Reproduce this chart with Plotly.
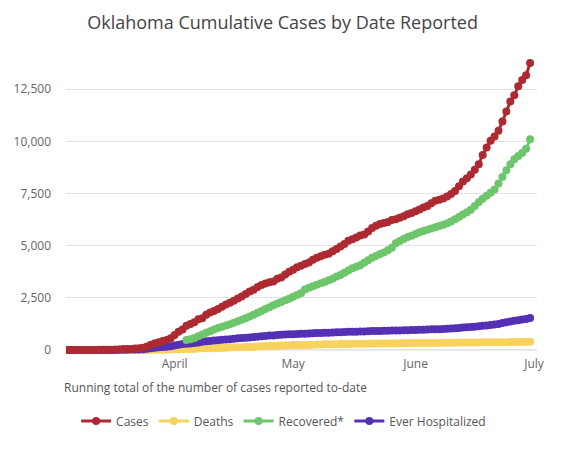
import pandas as pd
import plotly.graph_objects as go

# fechas: 5 de marzo a 30 de junio de 2020
fechas = pd.date_range('2020-03-05', '2020-06-30', freq='D')

cases = [1, 1, 1, 2, 2, 3, 3, 4, 7, 7, 10, 17, 19, 29, 44, 49, 53, 67, 81, 106, 164, 248, 322, 377, 429, 481, 565,
         719, 879, 988, 1159, 1252, 1327, 1472, 1524, 1684, 1794, 1868, 1970, 2069, 2184, 2263, 2357, 2465, 2570,
         2680, 2807, 2894, 3017, 3121, 3193, 3253, 3280, 3410, 3473, 3618, 3748,
         3851, 3972, 4044, 4127, 4201, 4330, 4424, 4490, 4570, 4613, 4732, 4841, 4962, 5086, 5236, 5310, 5398,
         5489, 5532, 5680, 5849, 5960, 6037, 6090, 6137, 6229, 6270, 6340, 6418, 6506, 6573,
         6650, 6742, 6833, 6907, 7040, 7150, 7205, 7260, 7362, 7480, 7626, 7851, 8080, 8231, 8417, 8645, 8904,
         9354, 9706, 10037, 10233, 10515, 10958, 11436, 11917, 12214, 12642, 12943, 13172, 13757]

deaths = [0, 0, 0, 0, 0, 0, 0, 0, 0, 0, 0, 0, 0, 0, 1, 1, 1, 2, 2, 3, 5, 7, 8, 15, 16, 17, 23,
          30, 34, 38, 42, 46, 51, 67, 79, 80, 86, 88, 94, 99, 108, 123, 127, 131, 136, 139, 140, 143, 164, 179,
          188, 195, 197, 207, 214, 222, 230,
          234, 238, 238, 241, 245, 253, 260, 266, 271, 274, 278, 280, 284, 288, 288, 294, 294, 298, 299, 304, 307,
          311, 313, 313, 316, 317, 322, 326, 328, 330, 334,
          334, 336, 339, 340, 341, 341, 342, 343, 346, 348, 353, 356, 357, 359, 359, 360, 363, 366, 367, 369, 369,
          372, 373, 377, 382, 387, 388, 389, 391, 399]

# recuperados empiezan el 5 de abril
recovered = [480, 520, 580, 660, 740, 830, 900, 980, 1050, 1120, 1180, 1240, 1310, 1380, 1450, 1520, 1600, 1690,
             1790, 1870, 1960, 2050, 2150, 2230, 2300, 2380,
             2460, 2550, 2640, 2720, 2900, 2980, 3060, 3130, 3200, 3260, 3340, 3420, 3520, 3600, 3700, 3810, 3920,
             3990, 4060, 4180, 4300, 4420, 4510, 4600, 4680, 4780, 4900, 5120, 5220, 5320, 5420, 5480,
             5560, 5640, 5700, 5760, 5820, 5880, 5940, 6000, 6080, 6160, 6270, 6380, 6500, 6600, 6720, 6900, 7080,
             7250, 7400, 7540, 7700, 7980, 8300, 8620, 8900, 9150, 9300, 9450, 9650, 10100]

hospitalized = [0, 0, 0, 0, 0, 0, 0, 0, 0, 0, 1, 2, 4, 8, 12, 15, 18, 22, 25, 35, 59, 86, 105, 126, 140, 153, 180,
                219, 257, 286, 305, 316, 340, 360, 390, 415, 435, 450, 470, 490, 505, 520, 540, 560, 575, 590,
                605, 620, 640, 660, 675, 690, 700, 715, 725, 740, 750,
                760, 770, 775, 780, 790, 800, 810, 820, 825, 830, 840, 850, 855, 860, 870, 875, 880, 885, 890, 900,
                905, 910, 915, 920, 925, 930, 935, 940, 945, 950, 955,
                960, 965, 975, 980, 990, 995, 1000, 1010, 1020, 1030, 1045, 1060, 1075, 1090, 1105, 1120, 1140,
                1160, 1180, 1200, 1220, 1250, 1290, 1330, 1370, 1400, 1430, 1460, 1490, 1530]

meses = ['2020-04-01', '2020-05-01', '2020-06-01', '2020-07-01']
meses_txt = ['April', 'May', 'June', 'July']

# (nombre, valores, color, orden en la leyenda) -> se dibuja de abajo hacia arriba
series = [
    ('Deaths', deaths, '#f7d25d', 2),
    ('Ever Hospitalized', hospitalized, '#5430b5', 4),
    ('Recovered*', recovered, '#6dc66b', 3),
    ('Cases', cases, '#ad2a33', 1),
]

fig = go.Figure()
for nombre, valores, color, rank in series:
    fig.add_trace(go.Scatter(
        x=fechas[-len(valores):], y=valores, name=nombre, mode='lines+markers',
        line=dict(color=color, width=3), marker=dict(color=color, size=8),
        legendrank=rank, hoverinfo='skip'))

# la pagina corre el grafico ~8px, se compensa en los margenes
fig.update_layout(
    width=565, height=458,
    margin=dict(l=58, r=36, t=50, b=111),
    paper_bgcolor='white', plot_bgcolor='white',
    font=dict(family='Open Sans', color='#666666', size=12),
    title=dict(text='Oklahoma Cumulative Cases by Date Reported', x=0.486, xanchor='center',
               y=0.967, yanchor='middle', font=dict(size=18, color='#444444')),
    showlegend=True,
    legend=dict(orientation='h', x=0.462, xanchor='center', y=-0.222, yanchor='middle',
                font=dict(size=12, color='#555555'), itemwidth=30, traceorder='normal'),
    annotations=[dict(text='Running total of the number of cases reported to-date', xref='paper', yref='paper',
                      x=-0.008, y=-0.11, xanchor='left', yanchor='middle', showarrow=False,
                      font=dict(size=12, color='#555555'))],
)

fig.update_xaxes(range=['2020-03-04 12:00', '2020-07-01 18:00'], tickvals=meses, ticktext=meses_txt,
                 showgrid=False, zeroline=False, showline=False, ticks='', automargin=False,
                 tickfont=dict(size=12, color='#666666'))
fig.update_yaxes(range=[-240, 14000], tickvals=[0, 2500, 5000, 7500, 10000, 12500], tickformat=',',
                 showgrid=True, gridcolor='#e3e3e3', gridwidth=1, zeroline=False, showline=False,
                 ticklabelstandoff=14, automargin=False, tickfont=dict(size=12, color='#666666'))
# linea del cero
fig.add_hline(y=0, line=dict(color='#d8d8d8', width=1), layer='below')

fig.write_html("out.html")
